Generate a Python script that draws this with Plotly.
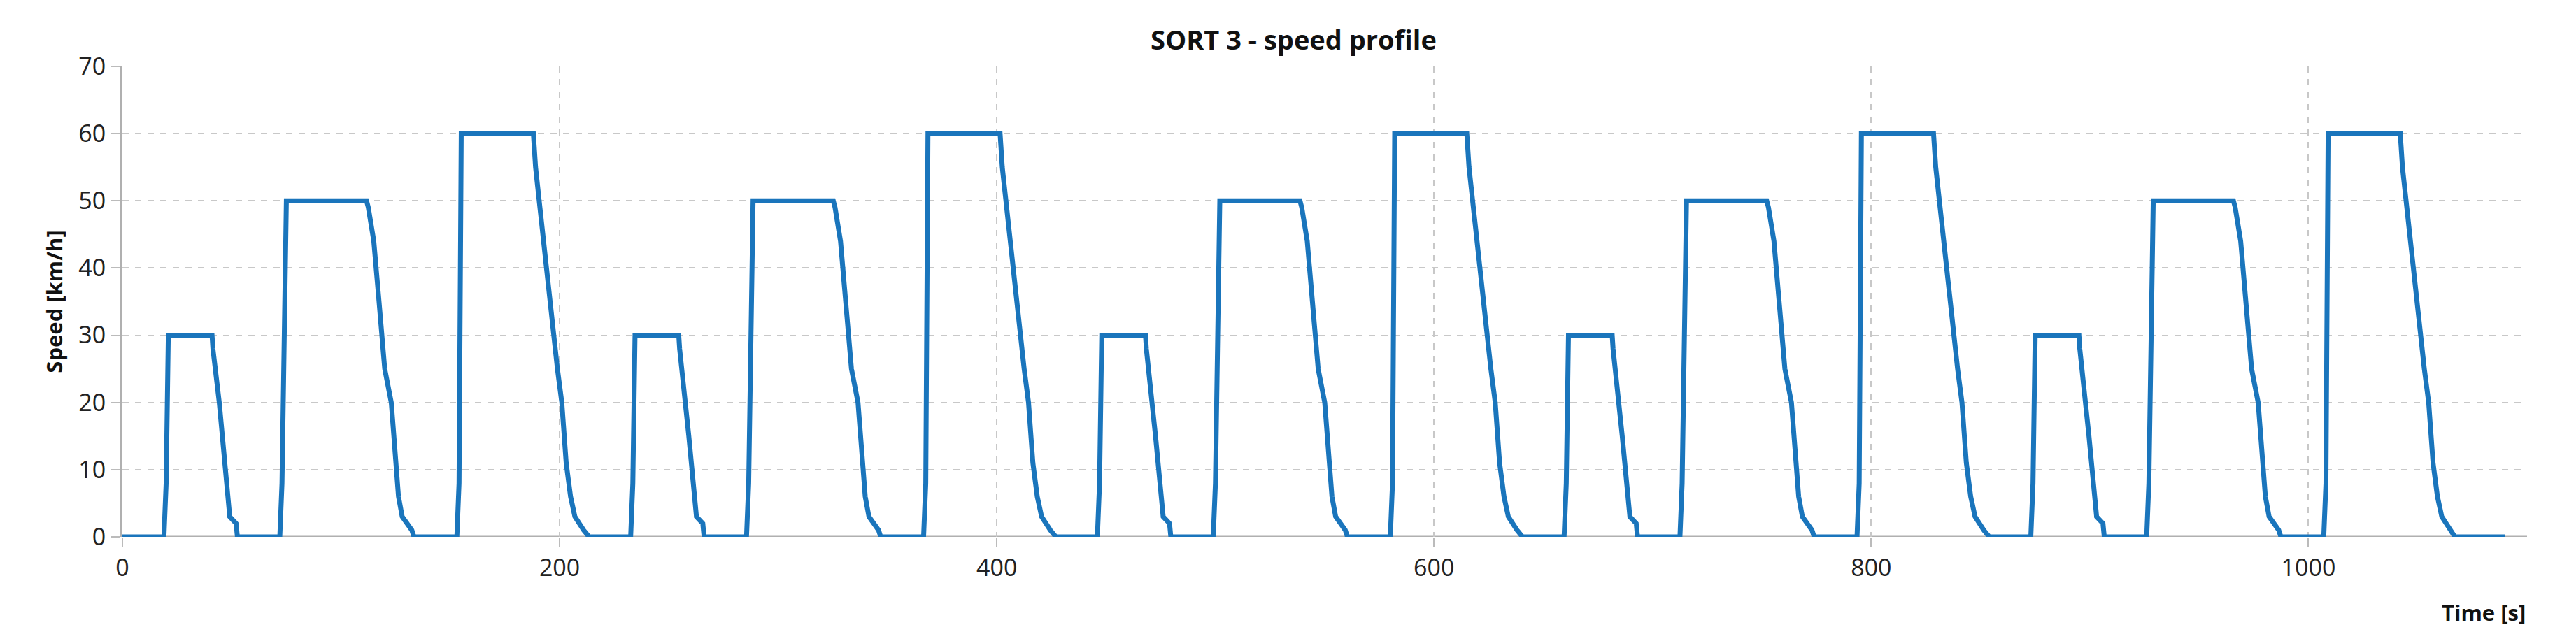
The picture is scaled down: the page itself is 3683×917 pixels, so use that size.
import plotly.graph_objects as go

# One SORT 3 cycle (time in s relative to cycle start, speed in km/h)
cycle_time = [0, 19, 20, 21, 41, 41.4, 44.3, 45.6, 49.1, 52, 52.6,
              72, 73, 75, 111.7, 112.5, 115, 117.4, 120, 123, 126.3, 128, 132.4, 133.4,
              153, 154, 155, 188, 189, 191, 193, 195, 197, 199, 201, 203, 205, 207, 211, 213]
cycle_speed = [0, 0, 8, 30, 30, 28, 20, 15, 3, 2, 0,
               0, 8, 50, 50, 49, 44, 35, 25, 20, 6, 3, 1, 0,
               0, 8, 60, 60, 55, 49, 43, 36, 30, 25, 20, 11, 6, 3, 1, 0]
cycle_period = 213.5
n_cycles = 5
end_time = 1090

x_ticks = [0, 200, 400, 600, 800, 1000]
y_ticks = [0, 10, 20, 30, 40, 50, 60, 70]

t, v = [], []
for k in range(n_cycles):
    off = k * cycle_period
    for a, b in zip(cycle_time, cycle_speed):
        t.append(a + off)
        v.append(b)
t.append(end_time)
v.append(0)

fig = go.Figure(go.Scatter(x=t, y=v, mode="lines",
                           line=dict(color="#1a75bc", width=7), hoverinfo="skip"))

font = "Open Sans"
fig.update_layout(
    width=3683, height=917, paper_bgcolor="white", plot_bgcolor="white",
    margin=dict(l=167, r=78, t=87, b=157),
    showlegend=False,
    title=dict(text="<b>SORT 3 - speed profile</b>", x=0.5, xanchor="center",
               y=1 - 50 / 917, yanchor="middle", font=dict(family=font, size=38, color="#111")),
    font=dict(family=font, size=34, color="#222"),
)
fig.update_xaxes(range=[0, 1100], tickvals=x_ticks, showgrid=True, gridcolor="#c8c8c8",
                 griddash="dash", gridwidth=2, zeroline=False, showline=False,
                 ticks="outside", ticklen=14, tickcolor="#bbbbbb", tickwidth=2,
                 tickfont=dict(size=34))
fig.update_yaxes(range=[0, 70], tickvals=y_ticks, showgrid=True, gridcolor="#c8c8c8",
                 griddash="dash", gridwidth=2, zeroline=False, showline=True,
                 linecolor="#b0b0b0", linewidth=3,
                 ticks="outside", ticklen=14, tickcolor="#bbbbbb", tickwidth=2,
                 tickfont=dict(size=34),
                 title=dict(text="<b>Speed [km/h]</b>", font=dict(size=31, color="#111"), standoff=14))
fig.add_shape(type="line", xref="paper", yref="y", x0=0, x1=1, y0=0, y1=0,
              line=dict(color="#b0b0b0", width=3), layer="below")
fig.add_annotation(text="<b>Time [s]</b>", xref="paper", yref="paper", x=1.0, y=-108 / 673,
                   xanchor="right", yanchor="middle", showarrow=False,
                   font=dict(family=font, size=31, color="#111"))

fig.write_html("out.html")
